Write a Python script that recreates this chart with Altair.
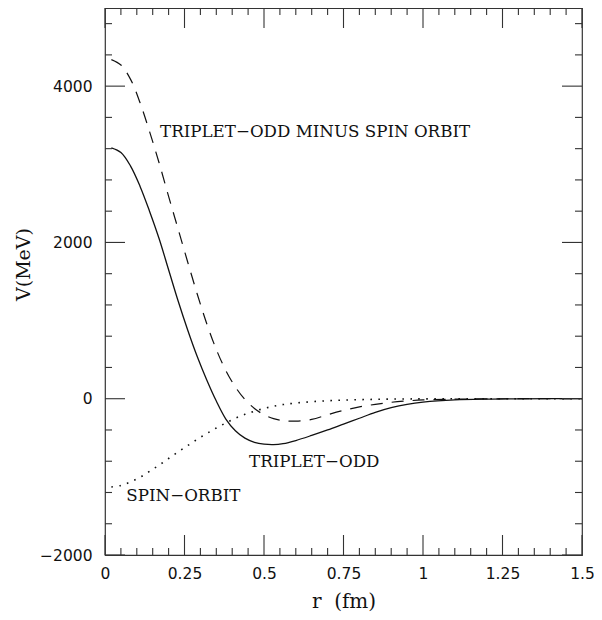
import altair as alt
import pandas as pd

# ---- data ----
r = [0.02, 0.05, 0.08, 0.11, 0.14, 0.17, 0.20, 0.23, 0.26, 0.29, 0.32, 0.35,
     0.38, 0.41, 0.44, 0.47, 0.50, 0.53, 0.56, 0.60, 0.65, 0.70, 0.75, 0.80,
     0.85, 0.90, 0.95, 1.00, 1.10, 1.20, 1.30, 1.40, 1.50]

triplet_odd = [3210, 3150, 2980, 2720, 2400, 2050, 1650, 1250, 880, 540, 240, -30,
               -260, -410, -505, -558, -582, -588, -575, -535, -470, -400, -325, -250,
               -175, -115, -72, -44, -15, -5, -2, 0, 0]

minus_spin_orbit = [4340, 4270, 4090, 3790, 3420, 3020, 2590, 2170, 1750, 1340, 960, 630,
                    360, 150, -10, -125, -205, -255, -280, -287, -265, -205, -150, -105,
                    -72, -46, -28, -16, -6, -2, 0, 0, 0]

spin_orbit = [-1130, -1110, -1065, -1005, -930, -850, -765, -680, -600, -520, -445, -375,
              -310, -250, -200, -160, -125, -97, -75, -55, -38, -26, -18, -12,
              -8, -5, -3, -2, 0, 0, 0, 0, 0]

x_major = [0, 0.25, 0.5, 0.75, 1.0, 1.25, 1.5]
x_minor = [0.05, 0.1, 0.15, 0.2, 0.3, 0.35, 0.4, 0.45, 0.55, 0.6, 0.65, 0.7,
           0.8, 0.85, 0.9, 0.95, 1.05, 1.1, 1.15, 1.2, 1.3, 1.35, 1.4, 1.45]
y_major = [-2000, 0, 2000, 4000]
y_minor = [-1600, -1200, -800, -400, 400, 800, 1200, 1600, 2400, 2800, 3200,
           3600, 4400, 4800]

label_text = ["TRIPLET\u2212ODD MINUS SPIN ORBIT", "TRIPLET\u2212ODD", "SPIN\u2212ORBIT"]
label_r = [0.173, 0.453, 0.067]
label_v = [3408, -807, -1245]

# ---- chart ----
W, H = 477, 547
INK = "#111111"
LABEL_EXPR = "replace('' + datum.value, '-', '\u2212')"

df = pd.DataFrame({"r": r, "to": triplet_odd, "mso": minus_spin_orbit, "so": spin_orbit})
xscale = alt.Scale(domain=[0, 1.5], nice=False, zero=False)
yscale = alt.Scale(domain=[-2000, 5000], nice=False, zero=False)

xaxis = alt.Axis(values=x_major, labelExpr=LABEL_EXPR, tickSize=0, domain=False, grid=False,
                 labelFont="DejaVu Sans", labelFontSize=15.5, labelColor=INK,
                 labelPadding=18, labelBaseline="middle", labelFlush=False,
                 labelOverlap=False,
                 title="r\u00a0\u00a0(fm)", titleFont="DejaVu Serif", titleFontSize=20,
                 titleFontWeight="normal", titleColor=INK, titleY=46,
                 titleBaseline="middle")
yaxis = alt.Axis(values=y_major, labelExpr=LABEL_EXPR, tickSize=0, domain=False, grid=False,
                 labelFont="DejaVu Sans", labelFontSize=15.5, labelColor=INK,
                 labelPadding=13, labelFlush=False, labelOverlap=False,
                 title="V(MeV)", titleFont="DejaVu Serif", titleFontSize=19,
                 titleFontWeight="normal", titleColor=INK, titleX=-82, titleY=256,
                 titleAngle=270, titleAlign="center", titleBaseline="middle")

X = lambda f: alt.X(f, scale=xscale, axis=xaxis)
Y = lambda f: alt.Y(f, scale=yscale, axis=yaxis)

base = alt.Chart(df)
solid = base.mark_line(color=INK, strokeWidth=1.3, interpolate="catmull-rom").encode(
    x=X("r:Q"), y=Y("to:Q"))
dashed = base.mark_line(color=INK, strokeWidth=1.2, strokeDash=[12, 9],
                        interpolate="catmull-rom").encode(x=X("r:Q"), y=Y("mso:Q"))
dotted = base.mark_line(color=INK, strokeWidth=1.6, strokeDash=[1.6, 6.4],
                        interpolate="catmull-rom").encode(x=X("r:Q"), y=Y("so:Q"))

labels = alt.Chart(pd.DataFrame({"r": label_r, "v": label_v, "t": label_text})).mark_text(
    align="left", baseline="middle", font="DejaVu Serif", fontSize=16.7, color=INK
).encode(x=X("r:Q"), y=Y("v:Q"), text="t:N")

def xticks(vals, length):
    d = alt.Chart(pd.DataFrame({"r": vals}))
    bot = d.mark_rule(color="#333333", strokeWidth=1.1).encode(
        x=X("r:Q"), y=alt.value(H), y2=alt.value(H - length))
    top = d.mark_rule(color="#333333", strokeWidth=1.1).encode(
        x=X("r:Q"), y=alt.value(0), y2=alt.value(length))
    return [bot, top]

def yticks(vals, length):
    d = alt.Chart(pd.DataFrame({"v": vals}))
    left = d.mark_rule(color="#333333", strokeWidth=1.1).encode(
        y=Y("v:Q"), x=alt.value(0), x2=alt.value(length))
    right = d.mark_rule(color="#333333", strokeWidth=1.1).encode(
        y=Y("v:Q"), x=alt.value(W), x2=alt.value(W - length))
    return [left, right]

layers = [solid, dashed, dotted, labels]
layers += xticks(x_major, 20) + xticks(x_minor, 7)
layers += yticks(y_major, 20) + yticks(y_minor, 7)

chart = alt.layer(*layers).properties(
    width=W, height=H, autosize="none",
    padding={"left": 97, "top": 0, "right": 12, "bottom": 57},
    background="white",
).configure_view(stroke="#333333", strokeWidth=1.2)

chart.save("out.html", embed_options={"renderer": "svg", "actions": False})
